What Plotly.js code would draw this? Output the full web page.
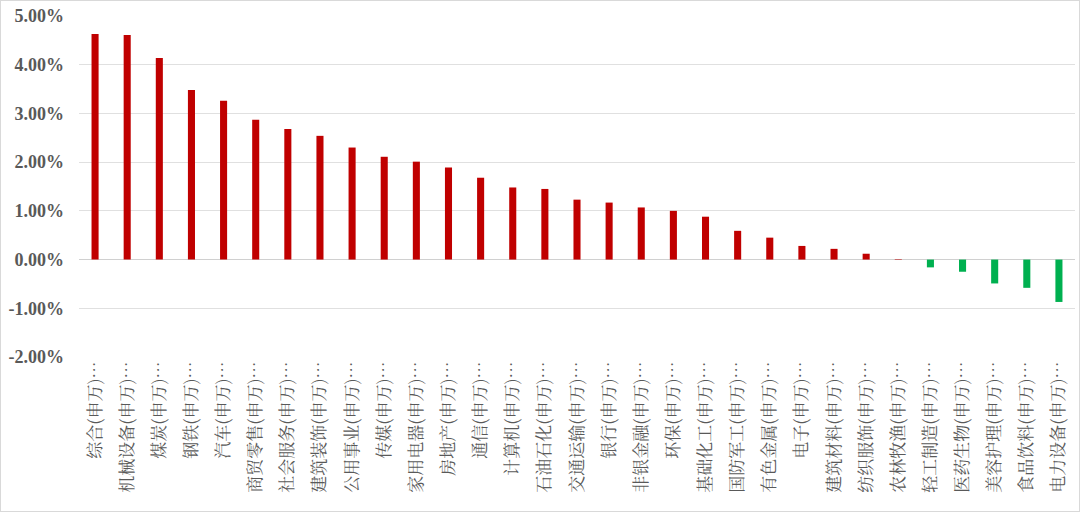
<!DOCTYPE html>
<html><head><meta charset="utf-8">
<script src="https://cdn.plot.ly/plotly-3.0.1.min.js"></script>
<style>html,body{margin:0;padding:0;background:#fff}#c{width:1080px;height:512px;box-sizing:border-box;border:1px solid #d9d9d9}</style>
</head><body><div id="c"></div>
<script>
const categories = ["综合(申万)…","机械设备(申万)…","煤炭(申万)…","钢铁(申万)…","汽车(申万)…","商贸零售(申万)…","社会服务(申万)…","建筑装饰(申万)…","公用事业(申万)…","传媒(申万)…","家用电器(申万)…","房地产(申万)…","通信(申万)…","计算机(申万)…","石油石化(申万)…","交通运输(申万)…","银行(申万)…","非银金融(申万)…","环保(申万)…","基础化工(申万)…","国防军工(申万)…","有色金属(申万)…","电子(申万)…","建筑材料(申万)…","纺织服饰(申万)…","农林牧渔(申万)…","轻工制造(申万)…","医药生物(申万)…","美容护理(申万)…","食品饮料(申万)…","电力设备(申万)…"];
const values = [4.63,4.61,4.14,3.48,3.26,2.87,2.68,2.54,2.30,2.11,2.01,1.89,1.68,1.48,1.45,1.23,1.17,1.07,1.00,0.88,0.59,0.45,0.28,0.22,0.12,0.01,-0.16,-0.25,-0.49,-0.58,-0.87];
const posColor = "#C00000", negColor = "#00B050";
const yTicks = [-2,-1,0,1,2,3,4,5];
const yTickText = ["-2.00%","-1.00%","0.00%","1.00%","2.00%","3.00%","4.00%","5.00%"];

const trace = {
  type: "bar", x: categories, y: values,
  marker: {color: values.map(v => v >= 0 ? posColor : negColor)},
  hoverinfo: "x+y"
};
const layout = {
  width: 1078, height: 510,
  margin: {l: 78, r: 4, t: 15, b: 154},
  paper_bgcolor: "#fff", plot_bgcolor: "#fff",
  bargap: 0.78, showlegend: false,
  xaxis: {
    type: "category", tickangle: -90, showgrid: false, zeroline: false,
    showline: false, ticks: "",
    tickfont: {family: "Noto Serif CJK SC, Noto Sans CJK SC, serif", size: 17, color: "#595959"}
  },
  yaxis: {
    range: [-2, 5], tickmode: "array", tickvals: yTicks, ticktext: yTickText,
    showgrid: true, gridcolor: "#e0e0e0", gridwidth: 1,
    zeroline: true, zerolinecolor: "#d0d0d0", zerolinewidth: 1,
    showline: false, ticks: "", ticklabelstandoff: 14,
    tickfont: {family: "Liberation Serif, DejaVu Serif, serif", size: 18, color: "#595959", weight: "bold"}
  }
};
Plotly.newPlot("c", [trace], layout, {displayModeBar: false, staticPlot: true});
</script></body></html>
